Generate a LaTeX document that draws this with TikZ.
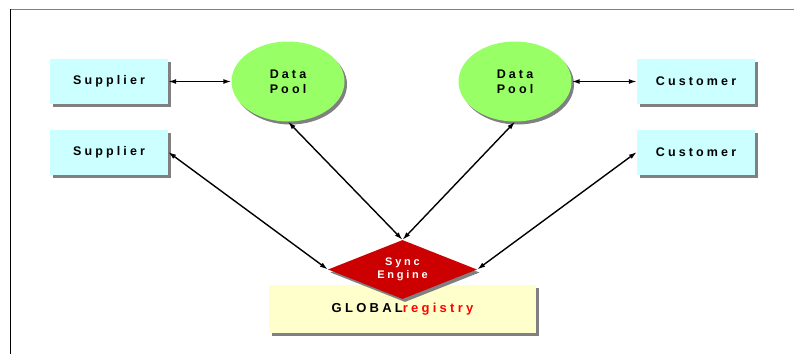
\documentclass[tikz,border=0pt]{standalone}
\usepackage{fontspec}
\setmainfont{Liberation Sans}
\newfontfamily\spaced[LetterSpace=25]{Liberation Sans}
\usetikzlibrary{shapes.geometric,shadows,arrows.meta}
\definecolor{partycyan}{HTML}{CCFFFF}
\definecolor{poolgreen}{HTML}{99FF66}
\definecolor{syncred}{HTML}{CC0000}
\definecolor{regyellow}{HTML}{FFFFCC}
\begin{document}
\begin{tikzpicture}[x=1pt,y=-1pt,
  shade/.style={drop shadow={shadow xshift=2.5pt,shadow yshift=-3pt,fill=gray,opacity=1}},
  party/.style={rectangle,fill=partycyan,minimum width=118pt,minimum height=45pt,inner sep=0pt,shade,
    font=\spaced\bfseries\fontsize{12.5}{14}\selectfont},
  pool/.style={ellipse,fill=poolgreen,minimum width=113pt,minimum height=80pt,inner sep=0pt,shade,align=center,
    font=\spaced\bfseries\fontsize{12.5}{15}\selectfont},
  engine/.style={diamond,aspect=2.5,fill=syncred,minimum width=149pt,minimum height=59pt,inner sep=0pt,shade,
    align=center,text=white,font=\spaced\bfseries\fontsize{11}{13}\selectfont},
  registry/.style={rectangle,fill=regyellow,minimum width=267pt,minimum height=48pt,inner sep=0pt,shade,
    font=\spaced\bfseries\fontsize{13}{15}\selectfont}]
\useasboundingbox (0,0) rectangle (794,354);
% frame
\draw[gray,line width=1pt] (10,9) -- (794,9);
\draw[line width=1pt] (10,9) -- (10,354);

% suppliers
\node[party] (S1) at (109,81.5) {Supplier};
\node[party] (S2) at (109,152) {Supplier};
% customers
\node[party] (C1) at (696,81.5) {Customer};
\node[party] (C2) at (696,152) {Customer};
% data pools
\node[pool] (P1) at (288,81.5) {Data\\Pool};
\node[pool] (P2) at (515,81.5) {Data\\Pool};

% registry and engine
\node[registry] (G) at (402.5,309) {GLOBAL{\color{red}registry}};
\node[engine] (E) at (402.5,269.5) {Sync\\Engine};

\path[<->,>={Latex[length=8pt,width=5pt]},line width=1.4pt]
% parties to pools
(S1) edge (P1)
(P2) edge (C1)
% pools to engine
(P1.south) edge (E.north)
(P2.south) edge (E.north)
% parties to engine
(S2.east) edge (E.west)
(C2.west) edge (E.east);

\end{tikzpicture}
\end{document}
